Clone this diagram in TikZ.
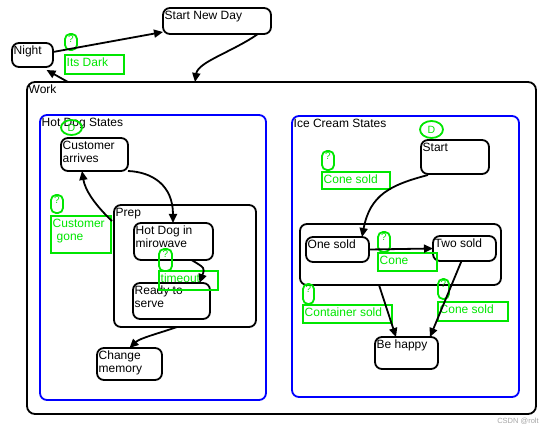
\documentclass[tikz,border=0pt]{standalone}
\usepackage{fontspec}
\setmainfont{Liberation Sans}
\usetikzlibrary{arrows.meta,calc,shapes.geometric}
\definecolor{grn}{RGB}{0,230,0}
\definecolor{blu}{RGB}{0,0,255}
\newcommand\stbox[6][box]{\node[#1,minimum width=#4pt,minimum height=#5pt,label={[lab]north west:#6}] (#2) at (#3) {};}
\newcommand\gqbox[4]{\node[gq,minimum width=#3pt,minimum height=#4pt,label={[anchor=north,inner sep=1.5pt,text=grn,font=\fontsize{10}{10}\selectfont]north:?}] (#1) at (#2) {};}
\newcommand\grbox[5]{\node[grect,minimum width=#3pt,minimum height=#4pt,label={[glab]north west:#5}] (#1) at (#2) {};}
\begin{document}
\begin{tikzpicture}[x=1pt,y=-1pt,
  lab/.style={anchor=north west,inner sep=1.5pt,yshift=-1.5pt,align=left,font=\fontsize{12}{12.5}\selectfont},
  box/.style={draw,line width=1.8pt,rounded corners=7pt,inner sep=0pt,outer sep=0pt,anchor=north west},
  region/.style={box,draw=blu},
  gq/.style={draw=grn,line width=1.8pt,rounded corners=5pt,inner sep=0pt,outer sep=0pt,anchor=north west},
  grect/.style={draw=grn,line width=1.8pt,inner sep=0pt,outer sep=0pt,anchor=north west},
  glab/.style={lab,text=grn},
  gell/.style={draw=grn,ellipse,line width=1.8pt,inner sep=0pt,text=grn,font=\fontsize{10.5}{10.5}\selectfont},
  arr/.style={line width=1.8pt,-{Triangle[length=9pt,width=8pt]}}]
\useasboundingbox (0,0) rectangle (550,433);
% top level
\stbox{start}{163,8}{108}{26}{Start New Day}
\stbox{night}{12,43}{41}{24}{Night}
\stbox[box,rounded corners=8pt]{work}{27,82}{509}{332}{Work}
\gqbox{qdark}{65,34}{12}{16}
\grbox{dark}{65,55}{59}{19}{Its Dark}
% hot dog
\stbox[region]{hotdog}{40,115}{226}{285}{Hot Dog States}
\node[gell,minimum width=21pt,minimum height=15pt] (hdD) at (71.5,127.5) {D};
\stbox{cust}{61,138}{67}{33}{Customer\\arrives}
\stbox{prep}{114,205}{142}{122}{Prep}
\stbox{hdm}{134,223}{79}{37}{Hot Dog in\\mirowave}
\stbox{ready}{133,283}{77}{36}{Ready to\\serve}
\stbox{change}{97,348}{65}{32}{Change\\memory}
\gqbox{qtime}{159,249}{13}{22}
\grbox{time}{159,271}{59}{19}{timeout}
\gqbox{qgone}{51,195}{12}{18}
\grbox{gone}{51,216}{60}{37}{Customer\\\hspace*{4pt}gone}
% ice cream
\stbox[region]{ice}{292,116}{227}{281}{Ice Cream States}
\node[gell,minimum width=23pt,minimum height=17pt] (icD) at (431.5,129.5) {D};
\stbox{icstart}{421,140}{68}{34}{Start}
\gqbox{qcs1}{322,151}{12}{19}
\grbox{cs1}{322,172}{68}{17}{Cone sold}
\stbox{comp}{300,224}{201}{61}{}
\stbox{one}{306,237}{63}{25}{One sold}
\stbox{two}{433,236}{63}{25}{Two sold}
\gqbox{qcone}{378,232}{12}{20}
\grbox{cone}{378,253}{59}{18}{Cone}
\stbox{happy}{375,337}{63}{32}{Be happy}
\gqbox{qcont}{303,284}{11}{20}
\grbox{cont}{303,305}{89}{18}{Container sold}
\gqbox{qcs2}{438,279}{11}{20}
\grbox{cs2}{438,302}{70}{19}{Cone sold}
% connectors
\draw[arr] ($(night.east)+(0,-3)$) -- ($(start.south west)+(0,-2)$);
\draw[arr] ($(work.north west)+(41,0)$) -- ($(night.south)+(14,3)$);
\draw[arr] ($(start.south east)+(-13,0)$) .. controls (232,52) and (198,62) .. ($(work.north west)+(168,0)$);
\draw[arr] (cust.south east) .. controls (152,172) and (173,185) .. ($(hdm.north west)+(39,0)$);
\draw[arr] ($(prep.north west)+(-2,16)$) .. controls (95,205) and (85,190) .. ($(cust.south west)+(21,0)$);
\draw[arr] ($(hdm.south)+(18,0)$) .. controls (205,268) .. ($(ready.north)+(28,0)$);
\draw[arr] ($(prep.south)+(-8,0)$) .. controls (160,333) and (140,338) .. (change.north);
\draw[arr] ($(icstart.south west)+(7,1)$) .. controls (390,185) and (370,195) .. ($(one.north east)+(-7,0)$);
\draw[arr] (one.east) -- (two.west);
\draw[arr] ($(comp.south)+(-21.5,0)$) -- ($(happy.north)+(-10.5,0)$);
\draw[arr] ($(two.south)+(-3,0)$) -- ($(happy.north east)+(-8,0)$);
\node[text=black!35,font=\fontsize{7.5}{8}\selectfont,inner sep=0pt] (wm) at (518,421) {CSDN @rolt};
\end{tikzpicture}
\end{document}
